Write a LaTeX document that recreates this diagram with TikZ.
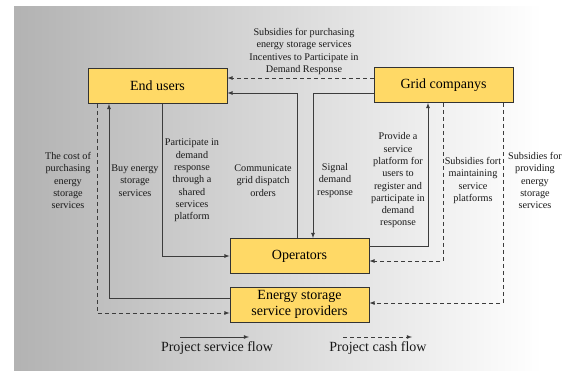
\documentclass[tikz,border=0pt]{standalone}
\usepackage{fontspec}
\setmainfont{Liberation Serif}
\usetikzlibrary{arrows,calc,shapes}
\tikzset{>=latex}
\definecolor{boxyellow}{RGB}{255,217,102}
\definecolor{linegray}{RGB}{60,60,60}
\tikzstyle{actor}=[rectangle,draw=black!80,fill=boxyellow,line width=0.8pt,minimum height=35pt,minimum width=139pt,inner sep=1pt,align=center,font=\fontsize{14}{16}\selectfont]
\tikzstyle{serv}=[->,draw=linegray,line width=0.8pt]
\tikzstyle{cash}=[->,draw=linegray,line width=0.8pt,dash pattern=on 4pt off 3pt]
\tikzstyle{flowlabel}=[align=center,inner sep=0pt,font=\fontsize{10.2}{12.3}\selectfont,text=black!90]

\begin{document}
\begin{tikzpicture}[x=1pt,y=-1pt]
	\def \midy {180.5};
	\useasboundingbox (0,0) rectangle (566,371);
	\shade[left color=black!30, right color=white] (14,7) rectangle (542,371);

	\node[actor] (users) at (157.5,86) {End users};
	\node[actor] (grid) at (443.5,85) {Grid companys};
	\node[actor] (oper) at (299.5,256) {Operators};
	\node[actor] (store) at (299.5,304.5) {Energy storage\\service providers};

	% flows between actors
	\draw[cash] (grid.west |- 0,78) -- (users.east |- 0,78);
	\draw[serv] (oper.north -| 297,0) |- (users.east |- 0,93);
	\draw[serv] (grid.west |- 0,93) -| (oper.north -| 313,0);
	\draw[serv] (oper.east |- 0,246) -| (grid.south -| 428,0);
	\draw[cash] (grid.south -| 443,0) |- (oper.east |- 0,261);
	\draw[cash] (grid.south -| 503,0) |- (store.east |- 0,303);
	\draw[cash] (users.south -| 97,0) |- (store.west |- 0,313);
	\draw[serv] (store.west |- 0,298) -| (users.south -| 109,0);
	\draw[serv] (users.south -| 162,0) |- (oper.west |- 0,256);

	\node[flowlabel] (subsidy) at (304,51.5) {Subsidies for purchasing\\energy storage services\\Incentives to Participate in\\Demand Response};

	\foreach \x/\txt [count=\i] in {
		68/{The cost of\\purchasing\\energy\\storage\\services},
		135/{Buy energy\\storage\\services},
		192/{Participate in\\demand\\response\\through a\\shared\\services\\platform},
		263/{Communicate\\grid dispatch\\orders},
		335/{Signal\\demand\\response},
		398/{Provide a\\service\\platform for\\users to\\register and\\participate in\\demand\\response},
		473/{Subsidies fort\\maintaining\\service\\platforms},
		535/{Subsidies for\\providing\\energy\\storage\\services}} {
		\node[flowlabel] (label\i) at (\x,\midy) {\txt};
	};

	% legend
	\coordinate (servA) at (180,337);
	\coordinate (servB) at (249,337);
	\coordinate (cashA) at (343,337);
	\coordinate (cashB) at (412,337);
	\draw[serv] (servA) -- (servB);
	\draw[cash] (cashA) -- (cashB);
	\node[font=\fontsize{14}{16}\selectfont,text=black!90] (servtext) at (217,348) {Project service flow};
	\node[font=\fontsize{14}{16}\selectfont,text=black!90] (cashtext) at (378,348) {Project cash flow};
\end{tikzpicture}
\end{document}
